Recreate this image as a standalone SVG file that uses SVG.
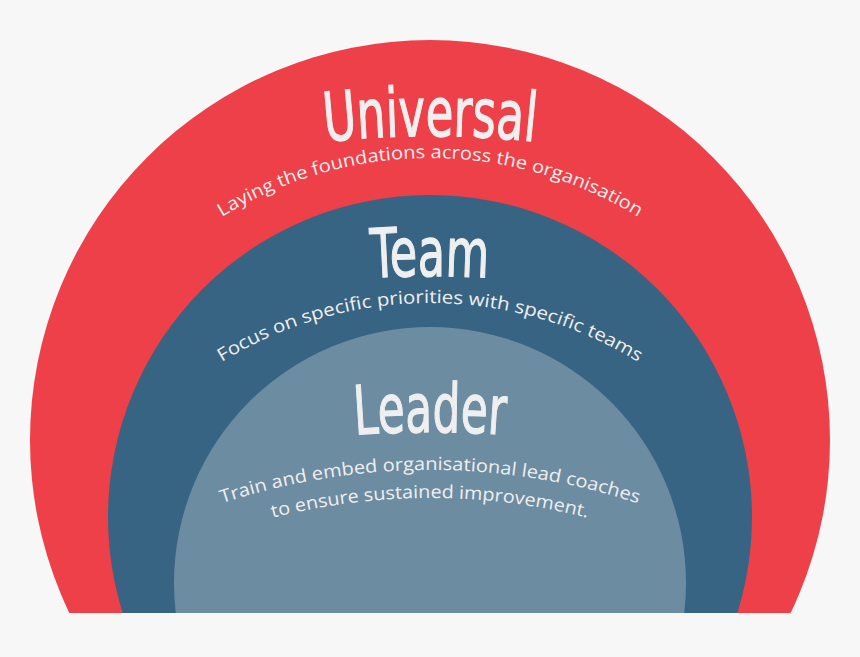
<svg xmlns="http://www.w3.org/2000/svg" xmlns:xlink="http://www.w3.org/1999/xlink" width="860" height="657" viewBox="0 0 860 657">
<style>
.title{font-family:"Liberation Sans Narrow","DejaVu Sans Condensed","Liberation Sans",sans-serif;font-size:68px;fill:#efefef;stroke:#efefef;stroke-width:1.2px;}
.sub{font-family:"Open Sans","Noto Sans","Liberation Sans",sans-serif;font-size:18px;fill:#f1eeee;}
</style>
<defs>
<clipPath id="cut"><rect x="0" y="0" width="860" height="613"/></clipPath>
<path id="pU" d="M256.4,151.2 A1000,1000 0 0,1 603.6,151.2"/>
<path id="pUs" d="M149.3,274.3 A397,397 0 0,1 710.7,274.3"/>
<path id="pT" d="M256.4,291.2 A1000,1000 0 0,1 603.6,291.2"/>
<path id="pTs" d="M149.3,419.3 A397,397 0 0,1 710.7,419.3"/>
<path id="pL" d="M256.4,447.2 A1000,1000 0 0,1 603.6,447.2"/>
<path id="pL1" d="M149,532.3 A665,665 0 0,1 711,532.3"/>
<path id="pL2" d="M160.8,557.7 A637,637 0 0,1 699.2,557.7"/>
</defs>
<rect width="860" height="657" fill="#f7f7f7"/>
<g clip-path="url(#cut)">
<g id="universal"><circle cx="430" cy="440" r="400" fill="#ee4048"/></g>
<g id="team"><circle cx="430" cy="517" r="322" fill="#376482"/></g>
<g id="leader"><circle cx="430" cy="583" r="256" fill="#6c8ca2"/></g>
</g>
<g id="labels">
<text class="title" text-anchor="middle"><textPath xlink:href="#pU" href="#pU" startOffset="50%" textLength="210" lengthAdjust="spacingAndGlyphs">Universal</textPath></text>
<text class="sub" text-anchor="middle"><textPath xlink:href="#pUs" href="#pUs" startOffset="50%" textLength="438" lengthAdjust="spacingAndGlyphs">Laying the foundations across the organisation</textPath></text>
<text class="title" text-anchor="middle"><textPath xlink:href="#pT" href="#pT" startOffset="50%" textLength="117" lengthAdjust="spacingAndGlyphs">Team</textPath></text>
<text class="sub" text-anchor="middle"><textPath xlink:href="#pTs" href="#pTs" startOffset="50%" textLength="438" lengthAdjust="spacingAndGlyphs">Focus on specific priorities with specific teams</textPath></text>
<text class="title" text-anchor="middle"><textPath xlink:href="#pL" href="#pL" startOffset="50%" textLength="150" lengthAdjust="spacingAndGlyphs">Leader</textPath></text>
<text class="sub" text-anchor="middle"><textPath xlink:href="#pL1" href="#pL1" startOffset="50%" textLength="423" lengthAdjust="spacingAndGlyphs">Train and embed organisational lead coaches</textPath></text>
<text class="sub" text-anchor="middle"><textPath xlink:href="#pL2" href="#pL2" startOffset="50%" textLength="318" lengthAdjust="spacingAndGlyphs">to ensure sustained improvement.</textPath></text>
</g>
</svg>
